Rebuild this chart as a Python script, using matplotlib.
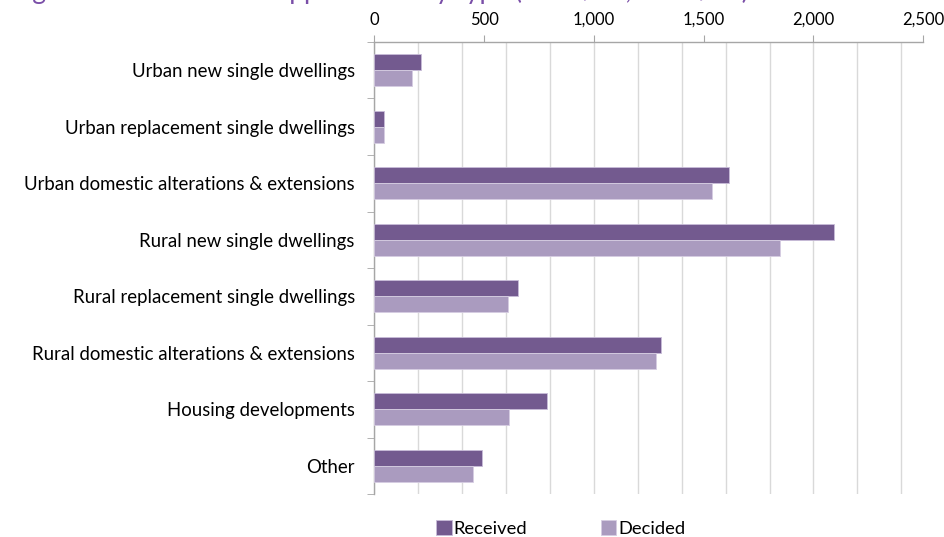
import numpy as np
import matplotlib.pyplot as plt

plt.rcParams['font.family'] = ['Lato', 'DejaVu Sans']

categories = [
    "Urban new single dwellings",
    "Urban replacement single dwellings",
    "Urban domestic alterations & extensions",
    "Rural new single dwellings",
    "Rural replacement single dwellings",
    "Rural domestic alterations & extensions",
    "Housing developments",
    "Other",
]
received = [211, 44, 1615, 2093, 654, 1304, 786, 490]
decided = [171, 42, 1537, 1847, 607, 1283, 615, 449]

col_received = "#735a8f"
col_decided = "#aa9bbf"

fig = plt.figure(figsize=(9.44, 5.37), dpi=100)
ax = fig.add_axes([0.3965, 0.080, 0.5815, 0.8418])

y = np.arange(len(categories))
h = 0.285
ax.barh(y - h / 2, received, height=h, color=col_received,
        edgecolor="#c8bcd8", linewidth=0.6, label="Received", zorder=3)
ax.barh(y + h / 2, decided, height=h, color=col_decided,
        edgecolor="#d6cde2", linewidth=0.6, label="Decided", zorder=3)

ax.set_xlim(0, 2500)
ax.set_ylim(len(categories) - 0.5, -0.5)

# gridlines every 200
for g in range(0, 2401, 200):
    ax.axvline(g, color="#d9d9d9", lw=1.0, zorder=1)

ax.xaxis.tick_top()
ax.set_xticks(range(0, 2501, 500))
ax.set_xticklabels([f"{v:,}" for v in range(0, 2501, 500)])
ax.tick_params(axis="x", length=5, color="#a6a6a6", labelsize=12, pad=5)

ax.set_yticks(y)
ax.set_yticklabels(categories)
ax.set_yticks(np.arange(-0.5, len(categories)), minor=True)
ax.tick_params(axis="y", which="major", length=0, labelsize=13.4, pad=14)
ax.tick_params(axis="y", which="minor", length=5, color="#a6a6a6")

for s in ("right", "bottom"):
    ax.spines[s].set_visible(False)
for s in ("left", "top"):
    ax.spines[s].set_color("#a6a6a6")
    ax.spines[s].set_linewidth(1.0)

# title sits mostly above the picture, as in the source
fig.text(0.012, 1 + 1 / 537, "Figure 4: Householder applications by type (2015/16, 2016/17)",
         color="#7a4fa8", fontsize=19, va="baseline", ha="left")

fig.legend(loc="lower center", bbox_to_anchor=(0.594, -0.03), ncol=2, frameon=False,
           fontsize=13.2, handlelength=0.85, handleheight=0.85, handletextpad=0.1,
           columnspacing=4.0)

fig.savefig("out.png", dpi=100)
